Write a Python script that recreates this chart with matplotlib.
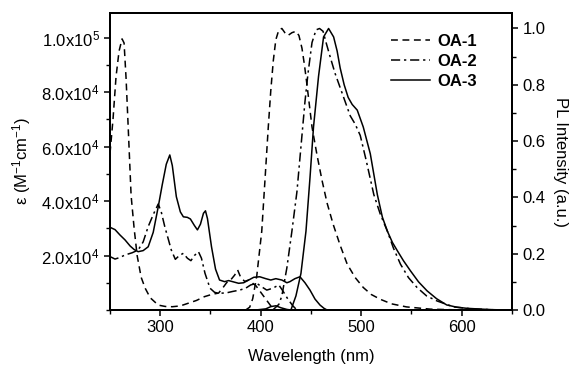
import matplotlib
matplotlib.use("Agg")
import matplotlib.pyplot as plt
from matplotlib.ticker import MultipleLocator, FixedLocator, FixedFormatter

plt.rcParams['font.family'] = ['Liberation Sans', 'DejaVu Sans']
plt.rcParams['mathtext.default'] = 'regular'

# ---- Absorption (left axis, epsilon) ----
wl_abs1 = [250, 253, 256, 259, 262, 264, 266, 268, 271, 274, 277, 281, 285, 290, 298, 305, 312, 320,
           328, 336, 344, 352, 358, 362, 366, 370, 374, 377, 380, 384, 388, 392, 395, 399, 403, 408, 413, 650]
eps_abs1 = [57500, 70000, 85600, 95000, 99500, 98000, 85000, 68000, 42000, 30000, 20000, 12000, 8000,
            4500, 1800, 1300, 1200, 1500, 2500, 3500, 4900, 5800, 6200, 8000, 10000, 11000, 12800, 14700,
            12000, 10500, 11000, 9800, 9000, 7000, 5000, 2500, 0, 0]

wl_abs2 = [250, 255, 260, 265, 272, 278, 283, 288, 293, 298, 301, 304.5, 308, 311, 315, 319, 323, 327,
           330.5, 334, 338, 341, 344.5, 349.5, 354, 358, 366, 372, 379, 385, 390, 396, 401, 406, 412, 418,
           422, 427, 432, 436, 650]
eps_abs2 = [19600, 18700, 19300, 20200, 21000, 22000, 25000, 30600, 35000, 38900, 36000, 30600, 26000,
            22000, 18600, 20000, 20800, 19000, 18100, 20000, 21400, 19000, 13500, 8000, 6500, 6100, 6300,
            6800, 7300, 8000, 9200, 9800, 8500, 7300, 8000, 9200, 7000, 4000, 1500, 0, 0]

wl_abs3 = [250, 255, 260, 265, 270, 274, 278, 283, 288, 293, 298, 302, 306, 309.5, 312, 316, 320, 323,
           327, 330, 334, 337, 340, 343, 345, 347, 351, 355, 359, 364, 368, 373, 378, 383, 388, 393, 399,
           405, 410, 415, 421, 426, 429, 434, 439, 444, 449, 454, 459, 463, 466, 650]
eps_abs3 = [30350, 29500, 27500, 25700, 23500, 22200, 21400, 21800, 23200, 28500, 37900, 46000, 53500,
            56900, 53000, 41600, 36000, 34200, 34000, 33400, 31000, 29400, 31500, 35500, 36400, 33500,
            23200, 15000, 11000, 10400, 10800, 10300, 9800, 10000, 11000, 12000, 12200, 11500, 11000,
            11500, 11000, 10000, 10400, 11500, 12200, 10000, 7300, 4000, 1800, 600, 0, 0]

# ---- Photoluminescence (right axis, normalized) ----
wl_pl1 = [385, 389, 392, 396, 401, 404, 407.5, 410, 412.5, 415, 418, 421, 424, 427, 431, 435, 438, 441,
          443.5, 446, 451, 456, 461, 466, 472, 479, 486, 494, 502, 510, 519, 530, 545, 569, 600, 650]
pl1 = [0, 0.01, 0.04, 0.12, 0.28, 0.45, 0.65, 0.78, 0.886, 0.96, 0.995, 1.0, 0.985, 0.975, 0.985, 0.99,
       0.975, 0.93, 0.87, 0.80, 0.65, 0.55, 0.46, 0.38, 0.305, 0.23, 0.163, 0.115, 0.08, 0.055, 0.038,
       0.022, 0.011, 0.003, 0.0, 0.0]

wl_pl2 = [412, 418, 421, 426, 431, 436, 440, 444, 447, 451, 455, 458.5, 462, 465, 469, 474, 479, 484,
          489, 494, 499, 505, 512.5, 519, 526, 532, 539, 547, 555.5, 565, 575.5, 592, 610, 630, 650]
pl2 = [0, 0.02, 0.05, 0.15, 0.28, 0.42, 0.58, 0.74, 0.84, 0.95, 0.995, 1.0, 0.99, 0.95, 0.90, 0.84,
       0.79, 0.74, 0.69, 0.66, 0.62, 0.53, 0.41, 0.34, 0.28, 0.22, 0.163, 0.115, 0.08, 0.05, 0.032,
       0.011, 0.004, 0.001, 0.0]

wl_pl3 = [395, 405, 410, 415, 420, 426, 430, 435, 440, 445, 449, 452.5, 457.5, 462.5, 467.5, 472.5, 476,
          479, 483, 487, 491, 496, 502, 509, 516, 521, 526, 531, 536, 542, 549, 557, 565.5, 575, 585,
          595, 605, 620, 632, 650]
pl3 = [0, 0.004, 0.012, 0.015, 0.008, 0.002, 0.0, 0.05, 0.13, 0.28, 0.47, 0.65, 0.83, 0.97, 1.0, 0.97,
       0.92, 0.86, 0.80, 0.755, 0.73, 0.71, 0.65, 0.555, 0.41, 0.33, 0.28, 0.24, 0.21, 0.175, 0.139,
       0.10, 0.068, 0.04, 0.018, 0.01, 0.006, 0.003, 0.001, 0.0]

labels = ['OA-1', 'OA-2', 'OA-3']
left_ticks = [2e4, 4e4, 6e4, 8e4, 1e5]
left_ticklabels = ['2.0x10$^{4}$', '4.0x10$^{4}$', '6.0x10$^{4}$', '8.0x10$^{4}$', '1.0x10$^{5}$']
x_ticks = [300, 400, 500, 600]
right_ticks = [0.0, 0.2, 0.4, 0.6, 0.8, 1.0]

styles = ['--', '-.', '-']
dashes = [(4.5, 3), (6, 2.5, 1.5, 2.5), None]
lw = 1.1
fs = 12

fig = plt.figure(figsize=(5.73, 3.67), dpi=100)
ax = fig.add_axes([110 / 573, 1 - 310 / 367, (512 - 110) / 573, (310 - 13) / 367])
ax2 = ax.twinx()

abs_data = [(wl_abs1, eps_abs1), (wl_abs2, eps_abs2), (wl_abs3, eps_abs3)]
pl_data = [(wl_pl1, pl1), (wl_pl2, pl2), (wl_pl3, pl3)]
handles = []
for i in range(3):
    kw = dict(color='black', lw=lw, linestyle=styles[i])
    l1, = ax.plot(*abs_data[i], **kw)
    l2, = ax2.plot(*pl_data[i], **kw)
    if dashes[i] is not None:
        l1.set_dashes(dashes[i])
        l2.set_dashes(dashes[i])
    handles.append(l2)

ax.set_xlim(250, 650)
ax.set_ylim(0, 1.09e5)
ax2.set_ylim(0, 1.055)

ax.xaxis.set_major_locator(FixedLocator(x_ticks))
ax.xaxis.set_minor_locator(MultipleLocator(50))
ax.yaxis.set_major_locator(FixedLocator(left_ticks))
ax.yaxis.set_major_formatter(FixedFormatter(left_ticklabels))
ax.yaxis.set_minor_locator(MultipleLocator(1e4))
ax2.yaxis.set_major_locator(FixedLocator(right_ticks))
ax2.set_yticklabels(['%.1f' % t for t in right_ticks])
ax2.yaxis.set_minor_locator(MultipleLocator(0.1))

for a in (ax, ax2):
    a.tick_params(which='major', direction='out', length=4.5, width=1.1, labelsize=fs, pad=3)
    a.tick_params(which='minor', direction='out', length=3, width=1.0)
    for s in a.spines.values():
        s.set_linewidth(1.4)

ax.set_xlabel('Wavelength (nm)', fontsize=fs, labelpad=10)
ax.set_ylabel('ε (M$^{-1}$cm$^{-1}$)', fontsize=fs, labelpad=6)
ax2.set_ylabel('PL Intensity (a.u.)', fontsize=fs, rotation=-90, labelpad=16)

leg = ax2.legend(handles, labels, loc='upper right', bbox_to_anchor=(0.95, 0.98), frameon=False,
                 prop={'weight': 'bold', 'size': fs}, handlelength=2.3, labelspacing=0.3,
                 handletextpad=0.45)

fig.savefig('out.png', dpi=100)
